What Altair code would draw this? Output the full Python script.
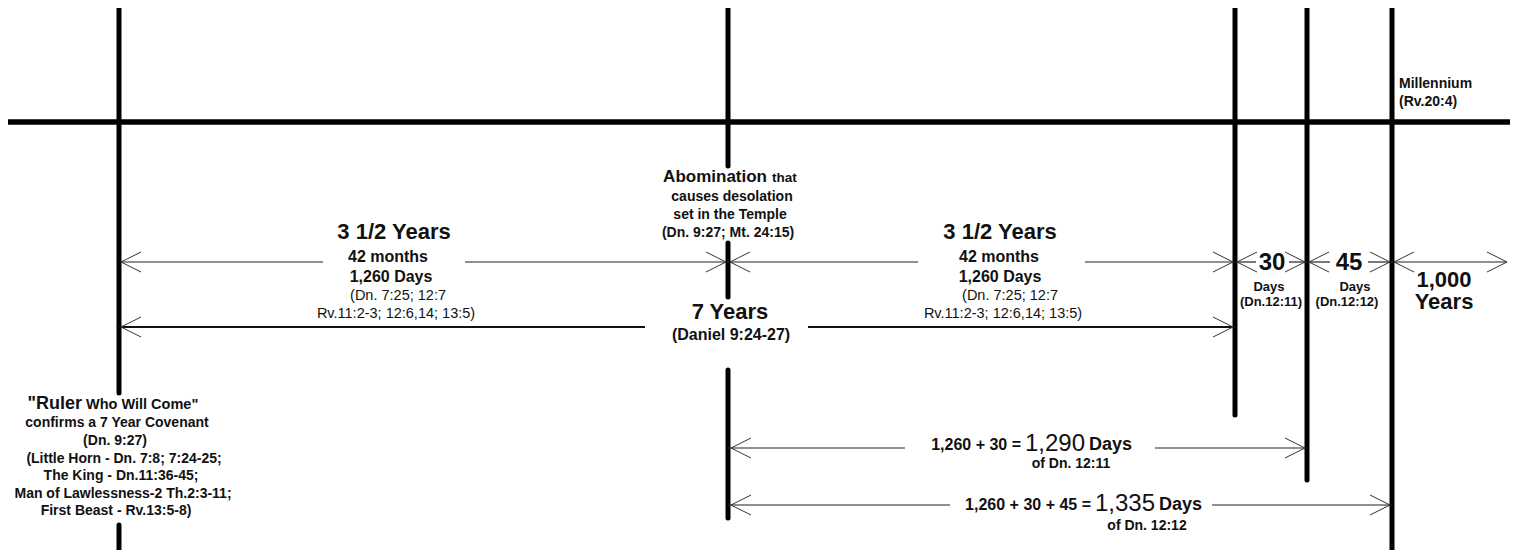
import altair as alt
import pandas as pd

# ---------------- Data (diagram coordinates) ----------------
# Thick vertical event lines: x, top, bottom
event_x = [119, 119, 728, 728, 728, 1235, 1307, 1392]
event_top = [8, 525, 8, 243, 370, 8, 8, 8]
event_bottom = [393, 570, 166, 297, 518, 415, 480, 570]

# Main horizontal time line
main_x1 = [6]
main_x2 = [1515]
main_y = [122]

# Arrow shafts: x start, x end, row y, row id
shaft_x1 = [119, 465, 728, 1085, 1235, 1289, 1307, 1368, 1392, 119, 808, 728, 1155, 728, 1212]
shaft_x2 = [323, 728, 918, 1235, 1256, 1307, 1330, 1392, 1507, 645, 1235, 905, 1307, 950, 1392]
shaft_y = [262, 262, 262, 262, 262, 262, 262, 262, 262, 327, 327, 448, 448, 505, 505]
shaft_row = ["r1"] * 9 + ["r2"] * 2 + ["r3"] * 2 + ["r4"] * 2

# Arrow tips: x, y, direction (+1 points right, -1 points left)
tip_x = [121, 726, 730, 1233, 1237, 1305, 1309, 1390, 1394, 1507, 121, 1233, 731, 1305, 731, 1390]
tip_y = [262, 262, 262, 262, 262, 262, 262, 262, 262, 262, 327, 327, 448, 448, 505, 505]
tip_dir = [-1, 1, -1, 1, -1, 1, -1, 1, -1, 1, -1, 1, -1, 1, -1, 1]

# Text labels
big_labels = ["3 1/2 Years", "3 1/2 Years", "7 Years", "1,000", "Years"]
big_x = [394, 1000, 730, 1444, 1444]
big_y = [232, 232, 312, 280, 302]

num_labels = ["30", "45"]
num_x = [1272, 1349]
num_y = [263, 263]

mid_labels = ["42 months", "42 months", "1,260 Days", "1,260 Days", "(Daniel 9:24-27)"]
mid_x = [388, 999, 391, 1000, 731]
mid_y = [257, 257, 277, 277, 335]

ref_labels = ["(Dn. 7:25; 12:7", "(Dn. 7:25; 12:7",
              "Rv.11:2-3; 12:6,14; 13:5)", "Rv.11:2-3; 12:6,14; 13:5)"]
ref_x = [398, 1010, 396, 1003]
ref_y = [296, 296, 314, 314]

note_labels = ["causes desolation", "set in the Temple", "(Dn. 9:27; Mt. 24:15)",
               "confirms a 7 Year Covenant", "(Dn. 9:27)",
               "(Little Horn - Dn. 7:8; 7:24-25;", "The King - Dn.11:36-45;",
               "Man of Lawlessness-2 Th.2:3-11;", "First Beast - Rv.13:5-8)",
               "of Dn. 12:11", "of Dn. 12:12"]
note_x = [732, 730, 728, 117, 115, 124, 121, 123, 116, 1071, 1147]
note_y = [197, 215, 233, 423, 441, 459, 476, 494, 511, 464, 526]

small_labels = ["Days", "(Dn.12:11)", "Days", "(Dn.12:12)"]
small_x = [1269, 1271, 1355, 1347]
small_y = [287, 302, 287, 302]

side_labels = ["Millennium", "(Rv.20:4)"]
side_x = [1399, 1399]
side_y = [84, 102]

piece_labels = ['"Ruler', 'Who Will Come"', "Abomination", "that",
                "1,260 + 30 =", "1,290", "Days",
                "1,260 + 30 + 45 =", "1,335", "Days"]
piece_x = [82, 86, 767, 772, 1021, 1025, 1089, 1091, 1095, 1159]
piece_y = [404, 405, 177, 178, 445, 444, 445, 505, 504, 505]

# ---------------- Chart ----------------
FONT = "Liberation Sans, Arial, Helvetica, sans-serif"
INK = "#111111"
W, H = 1502, 542
X0, Y0 = 8, 8
xs = alt.Scale(domain=[X0, X0 + W], nice=False, zero=False)
ys = alt.Scale(domain=[Y0 + H, Y0], nice=False, zero=False)


def xq(f):
    return alt.X(f, type="quantitative", scale=xs, axis=None)


def yq(f):
    return alt.Y(f, type="quantitative", scale=ys, axis=None)


events = pd.DataFrame({"x": event_x, "y1": event_top, "y2": event_bottom})
main = pd.DataFrame({"x1": main_x1, "x2": main_x2, "y": main_y})
shafts = pd.DataFrame({"x1": shaft_x1, "x2": shaft_x2, "y": shaft_y, "row": shaft_row})

ARM_DX, ARM_DY = 20, 10
arm_rows = []
for x, y, d in zip(tip_x, tip_y, tip_dir):
    for s in (-1, 1):
        arm_rows.append({"x1": x, "y1": y, "x2": x - d * ARM_DX, "y2": y + s * ARM_DY})
arms = pd.DataFrame(arm_rows)

layers = []
layers.append(
    alt.Chart(main).mark_rule(color="#000", strokeWidth=5.5, strokeCap="round")
    .encode(x=xq("x1"), x2=alt.X2("x2"), y=yq("y"))
)
layers.append(
    alt.Chart(events).mark_rule(color="#000", strokeWidth=5, strokeCap="round")
    .encode(x=xq("x"), y=yq("y1"), y2=alt.Y2("y2"))
)
layers.append(
    alt.Chart(shafts[shafts["row"] != "r2"]).mark_rule(color="#222", strokeWidth=1.2)
    .encode(x=xq("x1"), x2=alt.X2("x2"), y=yq("y"))
)
layers.append(
    alt.Chart(shafts[shafts["row"] == "r2"]).mark_rule(color="#111", strokeWidth=2.2)
    .encode(x=xq("x1"), x2=alt.X2("x2"), y=yq("y"))
)
layers.append(
    alt.Chart(arms).mark_rule(color="#333", strokeWidth=1)
    .encode(x=xq("x1"), x2=alt.X2("x2"), y=yq("y1"), y2=alt.Y2("y2"))
)


def text_layer(labels, xv, yv, size, weight="bold", align="center"):
    df = pd.DataFrame({"t": labels, "x": xv, "y": yv})
    return alt.Chart(df).mark_text(
        font=FONT, fontSize=size, fontWeight=weight, align=align,
        baseline="middle", color=INK
    ).encode(x=xq("x"), y=yq("y"), text="t:N")


layers.append(text_layer(big_labels, big_x, big_y, 22))
layers.append(text_layer(num_labels, num_x, num_y, 24))
layers.append(text_layer(mid_labels, mid_x, mid_y, 16))
layers.append(text_layer(ref_labels, ref_x, ref_y, 14.5, weight="normal"))
layers.append(text_layer(note_labels, note_x, note_y, 14))
layers.append(text_layer(small_labels, small_x, small_y, 13))
layers.append(text_layer(side_labels, side_x, side_y, 14, align="left"))

piece_styles = [(18, "bold", "right"), (14.5, "bold", "left"),
                (17, "bold", "right"), (13.5, "bold", "left"),
                (16, "bold", "right"), (24, "normal", "left"), (18, "bold", "left"),
                (16, "bold", "right"), (24, "normal", "left"), (18, "bold", "left")]
for i, (size, weight, align) in enumerate(piece_styles):
    layers.append(text_layer([piece_labels[i]], [piece_x[i]], [piece_y[i]], size, weight, align))

chart = alt.layer(*layers).properties(
    width=W, height=H, padding=0, autosize="none", background="white"
).configure_view(stroke=None)

chart.save("out.html", embed_options={"renderer": "svg", "actions": False})
